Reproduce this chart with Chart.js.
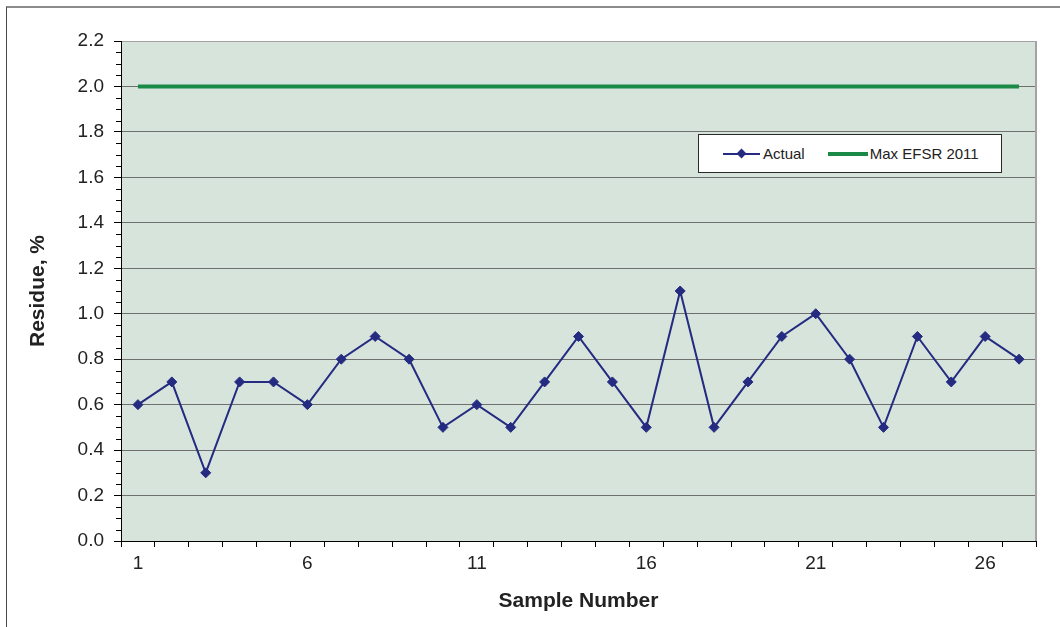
<!DOCTYPE html>
<html>
<head>
<meta charset="utf-8">
<title>Residue by Sample Number</title>
<script src="https://cdn.jsdelivr.net/npm/chart.js@4.4.1/dist/chart.umd.min.js"></script>
<style>
  html, body { margin: 0; padding: 0; background: #ffffff; }
  #wrap { position: relative; width: 1060px; height: 627px; overflow: hidden;
          font-family: "Liberation Sans", Arial, sans-serif; }
  #frame { position: absolute; left: 6px; top: 6px; width: 1070px; height: 640px;
           border-left: 1px solid #4a4a4a; border-top: 2px solid #8c8c8c; box-sizing: border-box; }
  #chart { position: absolute; left: 0; top: 0; }
  #legend { position: absolute; left: 698px; top: 134px; width: 304px; height: 39px;
            box-sizing: border-box; border: 1px solid #2a2a2a; background: #ffffff;
            display: flex; align-items: center; font-size: 15px; color: #222; }
  .item { display: flex; align-items: center; }
  .swatch { position: relative; width: 37px; height: 2px; margin-right: 3px; }
  .swatch.actual { background: #242b80; }
  .swatch.actual::after { content: ""; position: absolute; left: 15px; top: -3px; width: 7px; height: 7px;
                          background: #242b80; transform: rotate(45deg); }
  .swatch.limit { height: 4px; background: #1a8a46; width: 40px; margin-right: 2px; }
</style>
</head>
<body>
<div id="wrap">
  <div id="frame"></div>
  <canvas id="chart" width="1060" height="627"></canvas>
  <div id="legend">
    <div class="item" style="margin-left:24px;"><span class="swatch actual"></span><span>Actual</span></div>
    <div class="item" style="margin-left:23px;"><span class="swatch limit"></span><span>Max EFSR 2011</span></div>
  </div>
</div>
<script>
// Sample numbers along the x axis
const sampleNumbers = [1, 2, 3, 4, 5, 6, 7, 8, 9, 10, 11, 12, 13, 14, 15, 16, 17, 18, 19, 20, 21, 22, 23, 24, 25, 26, 27];

// Measured residue, %
const actualResidue = [0.6, 0.7, 0.3, 0.7, 0.7, 0.6, 0.8, 0.9, 0.8, 0.5, 0.6, 0.5, 0.7, 0.9, 0.7, 0.5, 1.1, 0.5, 0.7, 0.9, 1.0, 0.8, 0.5, 0.9, 0.7, 0.9, 0.8];

// Maximum allowed residue (EFSR 2011), %
const maxEfsr2011 = [2.0, 2.0, 2.0, 2.0, 2.0, 2.0, 2.0, 2.0, 2.0, 2.0, 2.0, 2.0, 2.0, 2.0, 2.0, 2.0, 2.0, 2.0, 2.0, 2.0, 2.0, 2.0, 2.0, 2.0, 2.0, 2.0, 2.0];

// Labelled x ticks
const xTickLabels = ['1', '6', '11', '16', '21', '26'];

// Y axis range and steps
const yMin = 0;
const yMax = 2.2;
const yMajorStep = 0.2;
const yMinorStep = 0.05;

const FONT = '"Liberation Sans", Arial, sans-serif';
const TEXT = '#222222';

// Fills the plot area and draws its right edge
const plotArea = {
  id: 'plotArea',
  beforeDraw(chart) {
    const { ctx, chartArea: a } = chart;
    ctx.save();
    ctx.fillStyle = '#d7e4dc';
    ctx.fillRect(a.left, a.top, a.right - a.left, a.bottom - a.top);
    ctx.restore();
  },
  beforeDatasetsDraw(chart) {
    const { ctx, chartArea: a } = chart;
    ctx.save();
    ctx.strokeStyle = '#a3a3a3';
    ctx.lineWidth = 2;
    ctx.beginPath();
    ctx.moveTo(a.right, a.top);
    ctx.lineTo(a.right, a.bottom);
    ctx.stroke();
    ctx.restore();
  }
};

// Short minor tick marks on the value axis
const minorTicks = {
  id: 'minorTicks',
  afterDraw(chart) {
    const y = chart.scales.y;
    const { ctx } = chart;
    const count = Math.round((yMax - yMin) / yMinorStep);
    const per = Math.round(yMajorStep / yMinorStep);
    ctx.save();
    ctx.strokeStyle = '#000000';
    ctx.lineWidth = 1;
    ctx.beginPath();
    for (let i = 0; i <= count; i++) {
      if (i % per === 0) continue;
      const py = Math.round(y.getPixelForValue(yMin + i * yMinorStep)) + 0.5;
      ctx.moveTo(y.right - 5, py);
      ctx.lineTo(y.right, py);
    }
    ctx.stroke();
    ctx.restore();
  }
};

new Chart(document.getElementById('chart'), {
  type: 'line',
  data: {
    labels: sampleNumbers,
    datasets: [
      {
        label: 'Actual',
        data: actualResidue,
        borderColor: '#242b80',
        backgroundColor: '#242b80',
        borderWidth: 2,
        pointStyle: 'rectRot',
        pointRadius: 5,
        pointBackgroundColor: '#242b80',
        pointBorderColor: '#242b80',
        pointBorderWidth: 1,
        tension: 0,
        fill: false
      },
      {
        label: 'Max EFSR 2011',
        data: maxEfsr2011,
        borderColor: '#1a8a46',
        borderWidth: 4,
        pointRadius: 0,
        tension: 0,
        fill: false
      }
    ]
  },
  options: {
    responsive: false,
    animation: false,
    layout: { padding: { left: 0, top: 41, right: 24, bottom: 0 } },
    plugins: {
      legend: { display: false },
      tooltip: { enabled: false }
    },
    scales: {
      x: {
        type: 'category',
        offset: true,
        grid: {
          offset: true,
          drawOnChartArea: false,
          drawTicks: true,
          tickLength: 6,
          color: '#000000'
        },
        border: { display: true, color: '#000000', width: 1 },
        ticks: {
          autoSkip: false,
          maxRotation: 0,
          padding: 5,
          color: TEXT,
          font: { family: FONT, size: 19 },
          callback(value) {
            const lab = String(this.getLabelForValue(value));
            return xTickLabels.includes(lab) ? lab : '';
          }
        },
        title: {
          display: true,
          text: 'Sample Number',
          color: TEXT,
          font: { family: FONT, size: 21, weight: 'bold' },
          padding: { top: 0, bottom: 13 }
        },
        afterFit(scale) { scale.height = 86; }
      },
      y: {
        min: yMin,
        max: yMax,
        grid: {
          drawTicks: true,
          tickLength: 7,
          tickColor: '#000000',
          color(ctx) {
            const v = ctx.tick ? ctx.tick.value : 0;
            if (Math.abs(v - yMax) < 1e-6) return '#a3a3a3';
            return '#6f6f6f';
          }
        },
        border: { display: true, color: '#000000', width: 1 },
        ticks: {
          stepSize: yMajorStep,
          padding: 10,
          color: TEXT,
          font: { family: FONT, size: 19 },
          callback(value) { return Number(value).toFixed(1); }
        },
        title: {
          display: true,
          text: 'Residue, %',
          color: TEXT,
          font: { family: FONT, size: 21, weight: 'bold' },
          padding: { top: 26, bottom: 0 }
        },
        afterFit(scale) { scale.width = 121; }
      }
    }
  },
  plugins: [plotArea, minorTicks]
});
</script>
</body>
</html>
